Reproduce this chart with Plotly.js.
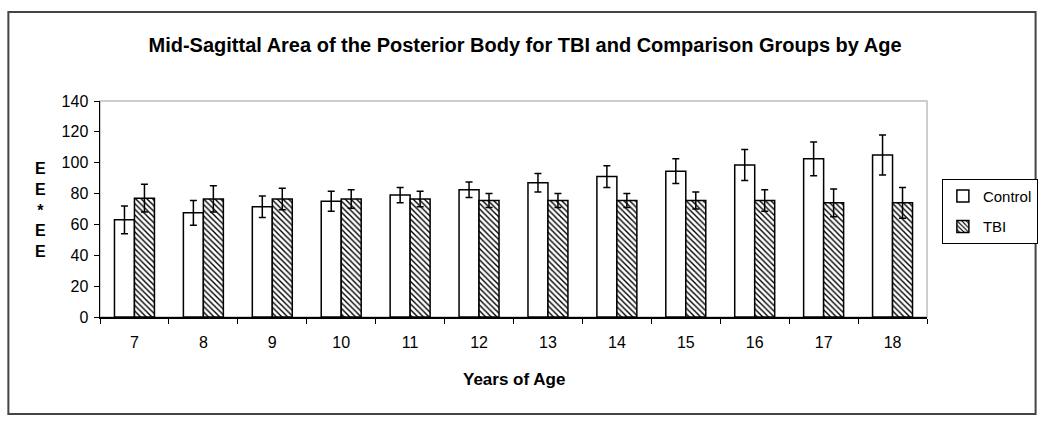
<!DOCTYPE html>
<html>
<head>
<meta charset="utf-8">
<script src="https://cdn.plot.ly/plotly-3.0.1.min.js"></script>
<style>
  html, body { margin: 0; padding: 0; background: #fff; }
  #chart { width: 1050px; height: 429px; }
</style>
</head>
<body>
<div id="chart"></div>
<script>
const ages = ["7", "8", "9", "10", "11", "12", "13", "14", "15", "16", "17", "18"];
const controlMean = [63, 67.5, 71.5, 75, 79, 82.5, 87, 91, 94.5, 98.5, 102.5, 105];
const controlErr = [9, 8, 7, 6.5, 5, 5, 6, 7, 8, 10, 11, 13];
const tbiMean = [77, 76.5, 76.5, 76.5, 76.5, 75.5, 75.5, 75.5, 75.5, 75.5, 74, 74];
const tbiErr = [9, 8.5, 7, 6, 5, 4.5, 4.5, 4.5, 5.5, 7, 9, 10];
const yTicks = [0, 20, 40, 60, 80, 100, 120, 140];

const font = "Arial, 'Liberation Sans', sans-serif";

const control = {
  type: "bar",
  name: "Control",
  legendgroup: "c",
  x: ages,
  y: controlMean,
  error_y: { type: "data", array: controlErr, visible: true, color: "#000", thickness: 1.5, width: 3.5 },
  marker: { color: "#fff", line: { color: "#000", width: 1.5 } }
};

const tbi = {
  type: "bar",
  name: "TBI",
  legendgroup: "t",
  x: ages,
  y: tbiMean,
  error_y: { type: "data", array: tbiErr, visible: true, color: "#000", thickness: 1.5, width: 3.5 },
  marker: {
    color: "#fff",
    line: { color: "#000", width: 1.5 },
    pattern: { shape: "\\", fgcolor: "#000", bgcolor: "#fff", size: 4, solidity: 0.35 }
  }
};

const layout = {
  width: 1050,
  height: 429,
  margin: { l: 100, r: 120, t: 101, b: 112 },
  paper_bgcolor: "#fff",
  plot_bgcolor: "#fff",
  font: { family: font, size: 16, color: "#000" },
  barmode: "group",
  bargap: 0.42,
  bargroupgap: 0,
  title: {
    text: "<b>Mid-Sagittal Area of the Posterior Body for TBI and Comparison Groups by Age</b>",
    font: { family: font, size: 20, color: "#000" },
    x: 0.5,
    xanchor: "center",
    y: 0.895,
    yanchor: "middle"
  },
  xaxis: {
    type: "category",
    showline: true,
    linecolor: "#000",
    linewidth: 1.5,
    ticks: "outside",
    tickson: "boundaries",
    ticklen: 5,
    tickcolor: "#000",
    showgrid: false,
    zeroline: false,
    ticklabelstandoff: 10,
    tickfont: { family: font, size: 16 }
  },
  yaxis: {
    range: [0, 140],
    tickvals: yTicks,
    showline: true,
    linecolor: "#000",
    linewidth: 1.5,
    ticks: "outside",
    ticklen: 5,
    tickcolor: "#000",
    showgrid: false,
    zeroline: false,
    ticklabelstandoff: 2,
    tickfont: { family: font, size: 16 }
  },
  legend: {
    x: 1.018,
    y: 0.64,
    xanchor: "left",
    yanchor: "top",
    bordercolor: "#000",
    borderwidth: 1,
    bgcolor: "#fff",
    font: { family: font, size: 15 },
    itemwidth: 30,
    traceorder: "grouped",
    tracegroupgap: 8
  },
  showlegend: true,
  shapes: [
    {
      type: "rect", xref: "paper", yref: "paper",
      x0: 0, x1: 1, y0: 0, y1: 1,
      line: { color: "#bdbdbd", width: 1.5 }, layer: "below"
    },
    {
      type: "rect", xref: "paper", yref: "paper",
      x0: -0.1108, x1: 1.1313, y0: -0.449, y1: 1.412,
      line: { color: "#444", width: 2 }
    }
  ],
  annotations: [
    {
      text: "<b>Years of Age</b>",
      xref: "paper", yref: "paper",
      x: 0.5, y: -0.29, xanchor: "center", yanchor: "middle",
      showarrow: false,
      font: { family: font, size: 17 }
    },
    {
      text: "<b>E<br>E<br>*<br>E<br>E</b>",
      xref: "paper", yref: "paper",
      x: -0.072, y: 0.495, xanchor: "center", yanchor: "middle",
      showarrow: false,
      font: { family: font, size: 16 }
    }
  ]
};

Plotly.newPlot("chart", [control, tbi], layout, { displayModeBar: false, staticPlot: true });
</script>
</body>
</html>
